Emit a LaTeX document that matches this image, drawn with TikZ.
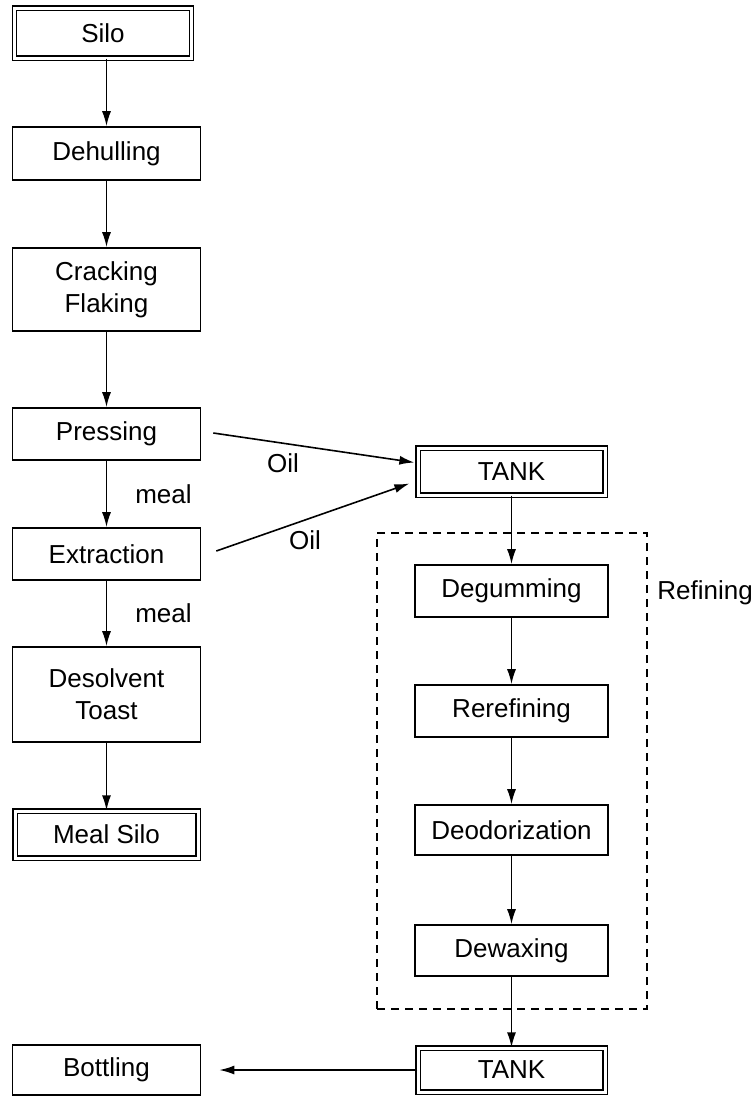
\documentclass[tikz,border=0pt]{standalone}
\usepackage{fontspec}
\setmainfont{Liberation Sans}
\usetikzlibrary{arrows.meta,calc}
\begin{document}
\begin{tikzpicture}[x=0.5pt,y=-0.5pt,
  box/.style={draw,line width=0.8pt,inner sep=0pt,align=center,
    font=\fontsize{13}{16}\selectfont},
  dbox/.style={box,double,line width=0.6pt,double distance=1.5pt},
  arr/.style={-{Latex[length=7.5pt,width=4.5pt]},line width=0.8pt},
  lbl/.style={inner sep=0pt,font=\fontsize{13}{15}\selectfont}]
\useasboundingbox (0,0) rectangle (753,1098);
% left column
\node[dbox,minimum width=88.5pt,minimum height=25pt] (silo) at (103,33) {Silo};
\node[box,minimum width=94pt,minimum height=26.5pt] (dehull) at (106.5,153.5) {Dehulling};
\node[box,minimum width=94pt,minimum height=41.5pt] (crack) at (106.5,289.5) {Cracking\\Flaking};
\node[box,minimum width=94pt,minimum height=26pt] (press) at (106.5,434) {Pressing};
\node[box,minimum width=94pt,minimum height=26pt] (extract) at (106.5,554) {Extraction};
\node[box,minimum width=94pt,minimum height=47.5pt] (desolv) at (106.5,694.5) {Desolvent\\Toast};
\node[dbox,minimum width=91.5pt,minimum height=23.5pt] (mealsilo) at (106.5,834.5) {Meal Silo};
\node[box,minimum width=94pt,minimum height=25pt] (bottle) at (106.5,1070) {Bottling};
% right column
\node[dbox,minimum width=93.5pt,minimum height=23.5pt] (tank1) at (511.5,471.5) {TANK};
\node[box,minimum width=96.5pt,minimum height=26pt] (degum) at (511.5,591) {Degumming};
\node[box,minimum width=96.5pt,minimum height=26pt] (reref) at (511.5,711) {Rerefining};
\node[box,minimum width=96.5pt,minimum height=25pt] (deodor) at (511.5,830) {Deodorization};
\node[box,minimum width=96.5pt,minimum height=25.5pt] (dewax) at (511.5,950.5) {Dewaxing};
\node[dbox,minimum width=93.5pt,minimum height=22pt] (tank2) at (511.5,1070) {TANK};
% refining frame
\node[draw,dashed,dash pattern=on 4pt off 3pt,line width=0.7pt,inner sep=0pt,
  minimum width=135pt,minimum height=238pt] (frame) at (512,771) {};
\node[lbl,anchor=west] (reflbl) at (657,593) {Refining};
% arrows left
\draw[arr] (silo.south -| dehull.north) -- (dehull.north);
\draw[arr] (dehull) -- (crack);
\draw[arr] (crack) -- (press);
\draw[arr] (press) -- node[lbl,right=14pt] (meal1) {meal} (extract);
\draw[arr] (extract) -- node[lbl,right=14pt] (meal2) {meal} (desolv);
\draw[arr] (desolv) -- (mealsilo);
% oil arrows
\draw[arr] ($(press.east)+(12,-1)$) -- ($(tank1.west)+(-3,-9)$);
\draw[arr] ($(extract.east)+(15,-3)$) -- ($(tank1.west)+(-8,12)$);
\node[lbl] (oil1) at (283,463) {Oil};
\node[lbl] (oil2) at (305,540) {Oil};
% arrows right
\draw[arr] (tank1) -- (degum);
\draw[arr] (degum) -- (reref);
\draw[arr] (reref) -- (deodor);
\draw[arr] (deodor) -- (dewax);
\draw[arr] (dewax) -- (tank2);
\draw[arr] (tank2.west) -- ($(bottle.east)+(18,0)$);
\end{tikzpicture}
\end{document}
